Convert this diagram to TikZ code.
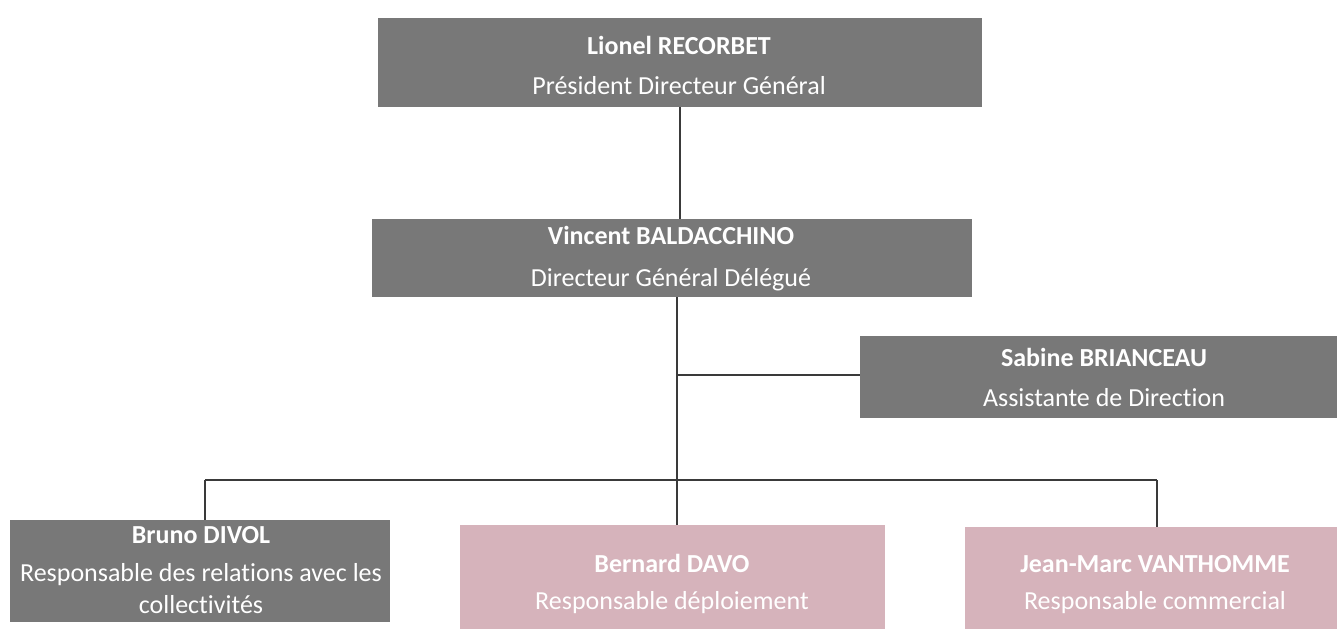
\documentclass[tikz,border=0pt]{standalone}
\usepackage{fontspec}
\setmainfont[Ligatures=NoCommon]{Carlito}
\begin{document}
\begin{tikzpicture}[x=1pt,y=-1pt,
  grayc/.style={fill=boxgray,draw=none},
  pinkc/.style={fill=boxpink,draw=none},
  lbl/.style={text=white,align=center,inner sep=0pt,font=\fontsize{26}{32}\selectfont},
  conn/.style={draw=linegray,line width=1.3pt}]
\definecolor{boxgray}{HTML}{787878}
\definecolor{boxpink}{HTML}{D6B3BB}
\definecolor{linegray}{HTML}{3A3A3A}
\useasboundingbox (0,0) rectangle (1337,629);
% boxes
\path[grayc] (378,18) rectangle (982,107);
\node[lbl] (pdg) at (679,65) {\textbf{Lionel RECORBET}\\[8pt]Président Directeur Général};
\path[grayc] (372,219) rectangle (972,297);
\node[lbl] (dgd) at (671,259) {\textbf{Vincent BALDACCHINO}\\[10pt]Directeur Général Délégué};
\path[grayc] (860,336) rectangle (1337,418);
\node[lbl] (asst) at (1104,377) {\textbf{Sabine BRIANCEAU}\\[8pt]Assistante de Direction};
\path[grayc] (10,520) rectangle (390,622);
\node[lbl] (divol) at (201,570) {\textbf{Bruno DIVOL}\\[6pt]Responsable des relations avec les\\collectivités};
\path[pinkc] (460,525) rectangle (885,629);
\node[lbl] (davo) at (672,584) {\textbf{Bernard DAVO}\\[5pt]Responsable déploiement};
\path[pinkc] (965,527) rectangle (1337,629);
\node[lbl] (vant) at (1155,585) {\textbf{Jean-Marc VANTHOMME}\\[5pt]Responsable commercial};
% anchors
\coordinate (pdgB) at (680,107);
\coordinate (dgdT) at (680,219);
\coordinate (dgdB) at (677,297);
\coordinate (jA) at (677,375);
\coordinate (asstL) at (860,375);
\coordinate (jB) at (677,480);
\coordinate (hL) at (205,480);
\coordinate (hR) at (1157,480);
\coordinate (divolT) at (205,520);
\coordinate (davoT) at (677,525);
\coordinate (vantT) at (1157,527);
\draw[conn] (pdgB) -- (dgdT);
\draw[conn] (dgdB) -- (jA) -- (jB);
\draw[conn] (jA) -- (asstL);
\draw[conn] (hL) -- (hR);
\draw[conn] (hL) -- (divolT);
\draw[conn] (jB) -- (davoT);
\draw[conn] (hR) -- (vantT);
\end{tikzpicture}
\end{document}
